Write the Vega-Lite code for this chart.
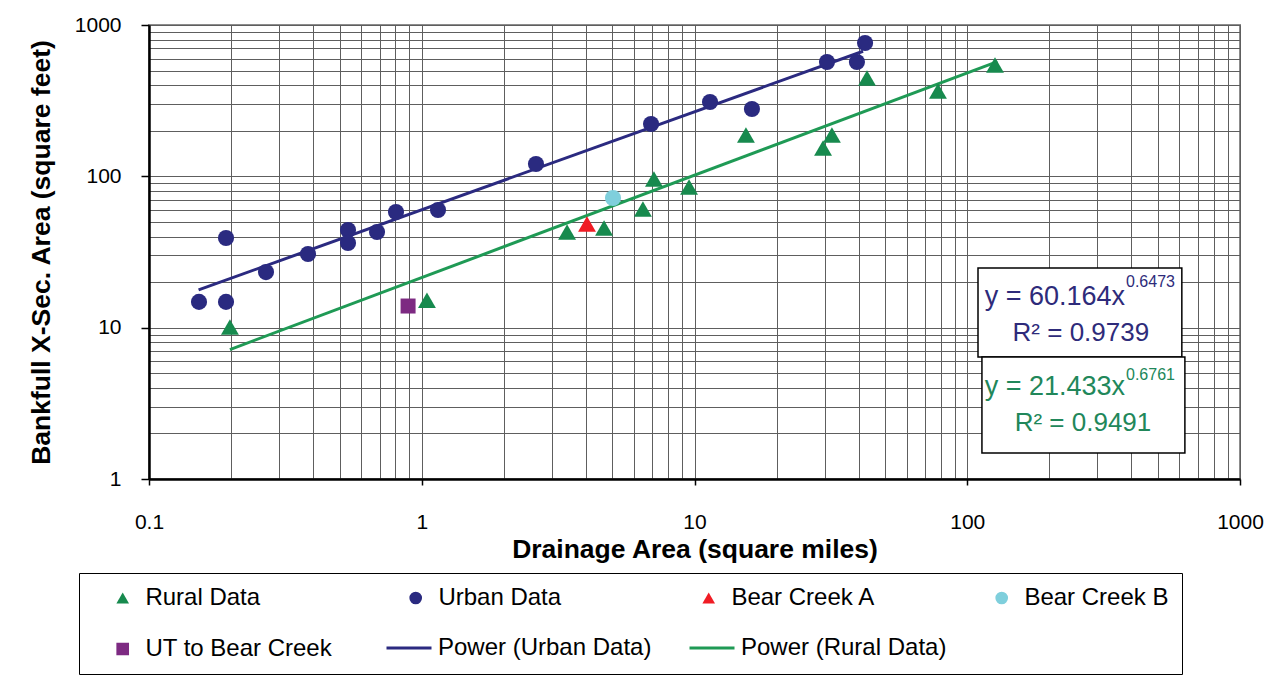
{
  "$schema": "https://vega.github.io/schema/vega-lite/v6.json",
  "width": 1091,
  "height": 454,
  "autosize": {"type": "none"},
  "padding": {"left": 149, "top": 25, "right": 43, "bottom": 198},
  "background": "white",
  "config": {
    "font": "Liberation Sans",
    "view": {"stroke": "#8c8c8c", "strokeWidth": 2}
  },
  "datasets": {
    "points": [
      {"series": "Urban Data", "da": 0.1525, "xs": 14.8},
      {"series": "Urban Data", "da": 0.1916, "xs": 39.1},
      {"series": "Urban Data", "da": 0.1916, "xs": 14.8},
      {"series": "Urban Data", "da": 0.2685, "xs": 23.3},
      {"series": "Urban Data", "da": 0.3828, "xs": 30.7},
      {"series": "Urban Data", "da": 0.5365, "xs": 44.2},
      {"series": "Urban Data", "da": 0.5365, "xs": 36.3},
      {"series": "Urban Data", "da": 0.6855, "xs": 42.9},
      {"series": "Urban Data", "da": 0.8045, "xs": 58.1},
      {"series": "Urban Data", "da": 1.147, "xs": 59.9},
      {"series": "Urban Data", "da": 2.623, "xs": 120.6},
      {"series": "Urban Data", "da": 6.93, "xs": 221.8},
      {"series": "Urban Data", "da": 11.4, "xs": 309.9},
      {"series": "Urban Data", "da": 16.24, "xs": 278.6},
      {"series": "Urban Data", "da": 30.6, "xs": 569.6},
      {"series": "Urban Data", "da": 39.4, "xs": 569.6},
      {"series": "Urban Data", "da": 42.2, "xs": 760.6},
      {"series": "Rural Data", "da": 0.198, "xs": 10.1},
      {"series": "Rural Data", "da": 1.045, "xs": 15.2},
      {"series": "Rural Data", "da": 3.41, "xs": 42.9},
      {"series": "Rural Data", "da": 4.66, "xs": 45.6},
      {"series": "Rural Data", "da": 6.47, "xs": 60.8},
      {"series": "Rural Data", "da": 7.1, "xs": 96.0},
      {"series": "Rural Data", "da": 9.55, "xs": 85.0},
      {"series": "Rural Data", "da": 15.44, "xs": 187.6},
      {"series": "Rural Data", "da": 29.6, "xs": 153.9},
      {"series": "Rural Data", "da": 31.9, "xs": 187.6},
      {"series": "Rural Data", "da": 42.9, "xs": 446.3},
      {"series": "Rural Data", "da": 78.1, "xs": 366.4},
      {"series": "Rural Data", "da": 126.4, "xs": 544.0},
      {"series": "Bear Creek A", "da": 4.035, "xs": 48.4},
      {"series": "Bear Creek B", "da": 5.025, "xs": 71.9},
      {"series": "UT to Bear Creek", "da": 0.891, "xs": 13.9}
    ],
    "fits": [
      {"series": "Power (Urban Data)", "da": 0.152, "xs": 17.77},
      {"series": "Power (Urban Data)", "da": 41.5, "xs": 671},
      {"series": "Power (Rural Data)", "da": 0.198, "xs": 7.17},
      {"series": "Power (Rural Data)", "da": 129.0, "xs": 573}
    ],
    "boxes": [
      {"grp": "urban", "da": 109.5, "da2": 612, "xs": 24.8, "xs2": 6.4},
      {"grp": "rural", "da": 113.2, "da2": 628, "xs": 6.4, "xs2": 1.485}
    ],
    "eqs": [
      {"grp": "urban", "part": "main", "da": 378.8, "xs": 15.95, "text": "y = 60.164x"},
      {"grp": "urban", "part": "sup", "da": 378.8, "xs": 20.0, "text": "0.6473"},
      {"grp": "urban", "part": "r2", "da": 261, "xs": 9.22, "text": "R² = 0.9739"},
      {"grp": "rural", "part": "main", "da": 378.8, "xs": 4.055, "text": "y = 21.433x"},
      {"grp": "rural", "part": "sup", "da": 378.8, "xs": 4.867, "text": "0.6761"},
      {"grp": "rural", "part": "r2", "da": 265.7, "xs": 2.344, "text": "R² = 0.9491"}
    ]
  },
  "layer": [
    {
      "data": {"name": "fits"},
      "mark": {"type": "line", "strokeWidth": 3},
      "encoding": {
        "x": {
          "field": "da", "type": "quantitative",
          "scale": {"type": "log", "domain": [0.1, 1000], "nice": false},
          "axis": {
            "title": "Drainage Area (square miles)",
            "values": [0.1,0.2,0.3,0.4,0.5,0.6,0.7,0.8,0.9,1,2,3,4,5,6,7,8,9,10,20,30,40,50,60,70,80,90,100,200,300,400,500,600,700,800,900,1000],
            "format": "~g",
            "labelExpr": "indexof([0.1,1,10,100,1000], datum.value) >= 0 ? datum.label : ''",
            "labelFont": "Liberation Sans", "labelFontSize": 21, "labelColor": "black",
            "labelPadding": 26, "labelFlush": false, "labelOverlap": false,
            "tickSize": 6, "tickColor": "black", "tickWidth": 1.5,
            "tickOpacity": {"condition": {"test": "indexof([0.1,1,10,100,1000], datum.value) >= 0", "value": 1}, "value": 0},
            "grid": true, "gridColor": "#5e5e5e", "gridWidth": 1, "gridOpacity": 1,
            "domainColor": "black", "domainWidth": 2.5,
            "titleFont": "Liberation Sans", "titleFontSize": 26.5, "titleFontWeight": "bold", "titleColor": "black",
            "titleY": 70, "titleBaseline": "middle"
          }
        },
        "y": {
          "field": "xs", "type": "quantitative",
          "scale": {"type": "log", "domain": [1, 1000], "nice": false},
          "axis": {
            "title": "Bankfull X-Sec. Area (square feet)",
            "values": [1,2,3,4,5,6,7,8,9,10,20,30,40,50,60,70,80,90,100,200,300,400,500,600,700,800,900,1000],
            "format": "~g",
            "labelExpr": "indexof([1,10,100,1000], datum.value) >= 0 ? datum.label : ''",
            "labelFont": "Liberation Sans", "labelFontSize": 21, "labelColor": "black",
            "labelPadding": 20, "labelFlush": false, "labelOverlap": false,
            "tickSize": 8, "tickColor": "black", "tickWidth": 1.5,
            "tickOpacity": {"condition": {"test": "indexof([1,10,100,1000], datum.value) >= 0", "value": 1}, "value": 0},
            "grid": true, "gridColor": "#5e5e5e", "gridWidth": 1, "gridOpacity": 1,
            "domainColor": "black", "domainWidth": 2.5,
            "titleFont": "Liberation Sans", "titleFontSize": 26.5, "titleFontWeight": "bold", "titleColor": "black",
            "titleX": -108, "titleY": 227, "titleAngle": -90, "titleBaseline": "middle", "titleAlign": "center"
          }
        },
        "stroke": {
          "field": "series", "type": "nominal",
          "scale": {
            "domain": ["Power (Urban Data)", "Power (Rural Data)"],
            "range": ["#2b2a80", "#1f9a55"]
          },
          "legend": {
            "title": null, "orient": "none", "legendX": 236, "legendY": 611,
            "direction": "horizontal", "columns": 2, "gridAlign": "all",
            "columnPadding": 36, "padding": 0,
            "symbolType": "stroke", "symbolSize": 2025, "symbolStrokeWidth": 3,
            "labelOffset": 5, "clipHeight": 24,
            "labelFont": "Liberation Sans", "labelFontSize": 24, "labelColor": "black", "labelLimit": 400
          }
        },
        "detail": {"field": "series"}
      }
    },
    {
      "data": {"name": "points"},
      "mark": {"type": "point", "filled": true, "opacity": 1},
      "encoding": {
        "x": {"field": "da", "type": "quantitative", "scale": {"type": "log", "domain": [0.1, 1000], "nice": false}},
        "y": {"field": "xs", "type": "quantitative", "scale": {"type": "log", "domain": [1, 1000], "nice": false}},
        "color": {
          "field": "series", "type": "nominal",
          "scale": {
            "domain": ["Rural Data", "Urban Data", "Bear Creek A", "Bear Creek B", "UT to Bear Creek"],
            "range": ["#178a4e", "#2a2a80", "#f01c24", "#7fcfdc", "#7d2a82"]
          },
          "legend": {
            "title": null, "orient": "none", "legendX": -70, "legendY": 548,
            "direction": "horizontal",
            "columns": 4, "gridAlign": "all", "columnPadding": 52, "rowPadding": 27,
            "strokeColor": "black", "padding": 13,
            "symbolSize": 160, "symbolOffset": 18.7, "labelOffset": 10.7, "clipHeight": 24,
            "labelFont": "Liberation Sans", "labelFontSize": 24, "labelColor": "black", "labelLimit": 400
          }
        },
        "shape": {
          "field": "series", "type": "nominal",
          "scale": {
            "domain": ["Rural Data", "Urban Data", "Bear Creek A", "Bear Creek B", "UT to Bear Creek"],
            "range": ["triangle-up", "circle", "triangle-up", "circle", "square"]
          }
        },
        "size": {
          "condition": [
            {"test": "datum.series === 'UT to Bear Creek'", "value": 225},
            {"test": "datum.series === 'Rural Data' || datum.series === 'Bear Creek A'", "value": 320}
          ],
          "value": 260
        }
      }
    },
    {
      "data": {"name": "boxes"},
      "mark": {"type": "rect", "fill": "white", "stroke": "black", "strokeWidth": 1.5},
      "encoding": {
        "x": {"field": "da", "type": "quantitative", "scale": {"type": "log", "domain": [0.1, 1000], "nice": false}},
        "x2": {"field": "da2"},
        "y": {"field": "xs", "type": "quantitative", "scale": {"type": "log", "domain": [1, 1000], "nice": false}},
        "y2": {"field": "xs2"}
      }
    },
    {
      "data": {"name": "eqs"},
      "transform": [{"filter": "datum.part === 'main'"}],
      "mark": {"type": "text", "align": "right", "baseline": "middle", "fontSize": 27, "font": "Liberation Sans"},
      "encoding": {
        "x": {"field": "da", "type": "quantitative", "scale": {"type": "log", "domain": [0.1, 1000], "nice": false}},
        "y": {"field": "xs", "type": "quantitative", "scale": {"type": "log", "domain": [1, 1000], "nice": false}},
        "text": {"field": "text"},
        "color": {"condition": {"test": "datum.grp === 'urban'", "value": "#2e2b7a"}, "value": "#21875a"}
      }
    },
    {
      "data": {"name": "eqs"},
      "transform": [{"filter": "datum.part === 'sup'"}],
      "mark": {"type": "text", "align": "left", "baseline": "middle", "fontSize": 16, "font": "Liberation Sans", "dx": 1},
      "encoding": {
        "x": {"field": "da", "type": "quantitative", "scale": {"type": "log", "domain": [0.1, 1000], "nice": false}},
        "y": {"field": "xs", "type": "quantitative", "scale": {"type": "log", "domain": [1, 1000], "nice": false}},
        "text": {"field": "text"},
        "color": {"condition": {"test": "datum.grp === 'urban'", "value": "#2e2b7a"}, "value": "#21875a"}
      }
    },
    {
      "data": {"name": "eqs"},
      "transform": [{"filter": "datum.part === 'r2'"}],
      "mark": {"type": "text", "align": "center", "baseline": "middle", "fontSize": 26, "font": "Liberation Sans"},
      "encoding": {
        "x": {"field": "da", "type": "quantitative", "scale": {"type": "log", "domain": [0.1, 1000], "nice": false}},
        "y": {"field": "xs", "type": "quantitative", "scale": {"type": "log", "domain": [1, 1000], "nice": false}},
        "text": {"field": "text"},
        "color": {"condition": {"test": "datum.grp === 'urban'", "value": "#2e2b7a"}, "value": "#21875a"}
      }
    }
  ]
}
